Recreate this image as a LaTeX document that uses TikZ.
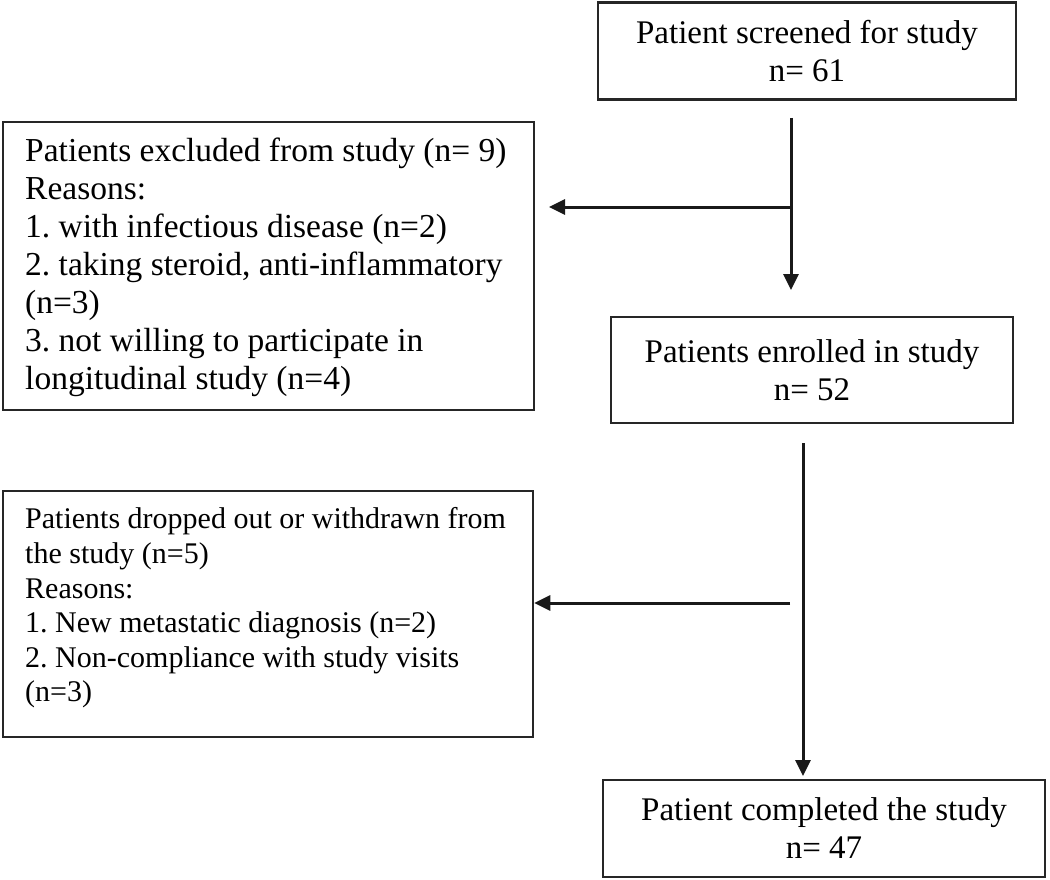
\documentclass[tikz,border=0pt]{standalone}
\usepackage{fontspec}
\setmainfont{Liberation Serif}
\usetikzlibrary{arrows.meta}
\frenchspacing
\begin{document}
\begin{tikzpicture}[x=1pt,y=-1pt,
  box/.style={draw=black!85,line width=2.5pt,inner sep=0pt,align=center,
    font=\fontsize{33}{38}\selectfont},
  bigtext/.style={inner sep=0pt,align=left,anchor=west,font=\fontsize{33.5}{38}\selectfont},
  smalltext/.style={inner sep=0pt,align=left,anchor=west,font=\fontsize{30}{34.6}\selectfont},
  arr/.style={draw=black!90,line width=3pt,-{Triangle[length=16pt,width=15pt]}}]
\useasboundingbox (0,0) rectangle (1050,880);

\node[box,minimum width=418pt,minimum height=97pt] (screen) at (807,51) {Patient screened for study\\n= 61};
\node[box,minimum width=531pt,minimum height=288pt] (excl) at (268.5,266) {};
\node[bigtext] (excltext) at (25,267) {Patients excluded from study (n= 9)\\Reasons:\\1. with infectious disease (n=2)\\2. taking steroid, anti-inflammatory\\(n=3)\\3. not willing to participate in\\longitudinal study (n=4)};
\node[box,minimum width=402pt,minimum height=106pt] (enrol) at (812,370) {Patients enrolled in study\\n= 52};
\node[box,minimum width=530pt,minimum height=246pt] (drop) at (268,614) {};
\node[smalltext] (droptext) at (25,608) {Patients dropped out or withdrawn from\\the study (n=5)\\Reasons:\\1. New metastatic diagnosis (n=2)\\2. Non-compliance with study visits\\(n=3)};
\node[box,minimum width=442pt,minimum height=97pt] (done) at (824,828.5) {Patient completed the study\\n= 47};

\coordinate (v1s) at (791,118);
\coordinate (v1e) at (791,290);
\coordinate (h1s) at (791,207);
\coordinate (h1e) at (549,207);
\draw[arr] (v1s) -- (v1e);
\draw[arr] (h1s) -- (h1e);

\coordinate (v2s) at (803,443);
\coordinate (v2e) at (803,776);
\coordinate (h2s) at (790,603);
\draw[arr] (v2s) -- (v2e);
\draw[arr] (h2s) -- (h2s -| drop.east);
\end{tikzpicture}
\end{document}
